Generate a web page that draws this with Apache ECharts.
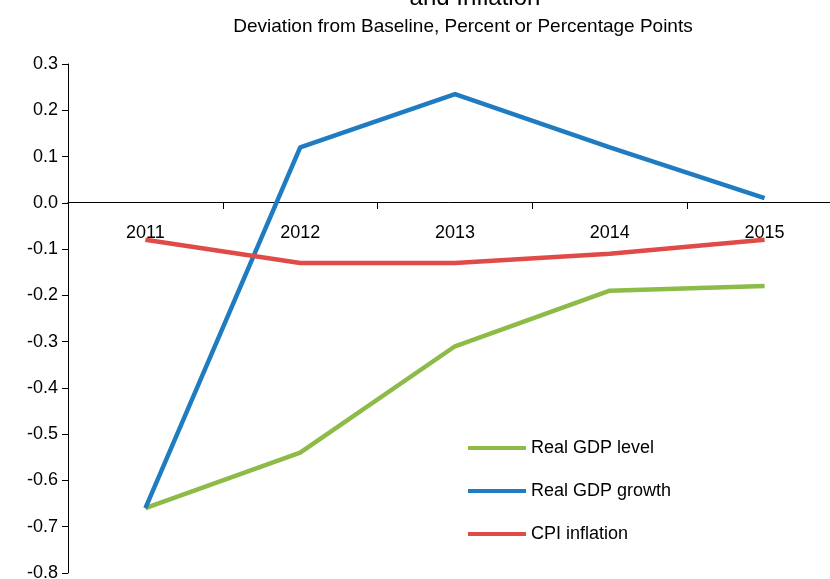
<!DOCTYPE html>
<html><head><meta charset="utf-8">
<script src="https://cdn.jsdelivr.net/npm/echarts@6/dist/echarts.min.js"></script>
<style>html,body{margin:0;padding:0;background:#fff}#c{width:830px;height:579px}</style>
</head><body><div id="c"></div>
<script>
var years = ['2011','2012','2013','2014','2015'];
var gdpLevel = [-0.66, -0.54, -0.31, -0.19, -0.18];
var gdpGrowth = [-0.66, 0.12, 0.235, 0.12, 0.01];
var cpi = [-0.08, -0.13, -0.13, -0.11, -0.08];
var F = 'Liberation Sans, Arial, sans-serif';
var chart = echarts.init(document.getElementById('c'));
chart.setOption({
  animation:false,
  title:[
    {text:'and Inflation', left:470, textAlign:'center', top:-19, textStyle:{fontFamily:F,fontSize:24,fontWeight:'normal',color:'#000'}},
    {text:'Deviation from Baseline, Percent or Percentage Points', left:458, textAlign:'center', top:12, textStyle:{fontFamily:F,fontSize:19,fontWeight:'normal',color:'#000'}}
  ],
  grid:{left:68, right:-12, top:64, bottom:6, containLabel:false, outerBoundsMode:'none'},
  legend:{orient:'vertical', left:463, top:434, itemGap:25, itemWidth:58, itemHeight:4,
    icon:'rect', textStyle:{fontFamily:F,fontSize:18,color:'#000'},
    data:['Real GDP level','Real GDP growth','CPI inflation']},
  xAxis:{type:'category', data:years, boundaryGap:true, position:'bottom', offset:-371,
    axisLine:{onZero:false, lineStyle:{color:'#000'}},
    axisTick:{show:true, length:7, lineStyle:{color:'#000'}},
    axisLabel:{fontFamily:F,fontSize:18,color:'#000',margin:22}},
  yAxis:{type:'value', min:-0.8, max:0.3, interval:0.1,
    axisLine:{show:true,lineStyle:{color:'#000'}},
    axisTick:{show:true,length:6,lineStyle:{color:'#000'}},
    splitLine:{show:false},
    axisLabel:{fontFamily:F,fontSize:18,color:'#000',margin:10,
      formatter:function(v){var s=(Math.round(v*10)/10).toFixed(1); return s==='-0.0'?'0.0':s;}}},
  series:[
    {name:'Real GDP level', type:'line', data:gdpLevel, symbol:'none', lineStyle:{width:4.5,color:'#8DBB48'}, itemStyle:{color:'#8DBB48'}},
    {name:'Real GDP growth', type:'line', data:gdpGrowth, symbol:'none', lineStyle:{width:4.5,color:'#1F7CC1'}, itemStyle:{color:'#1F7CC1'}},
    {name:'CPI inflation', type:'line', data:cpi, symbol:'none', lineStyle:{width:4.5,color:'#E04A47'}, itemStyle:{color:'#E04A47'}}
  ]
});
</script></body></html>
